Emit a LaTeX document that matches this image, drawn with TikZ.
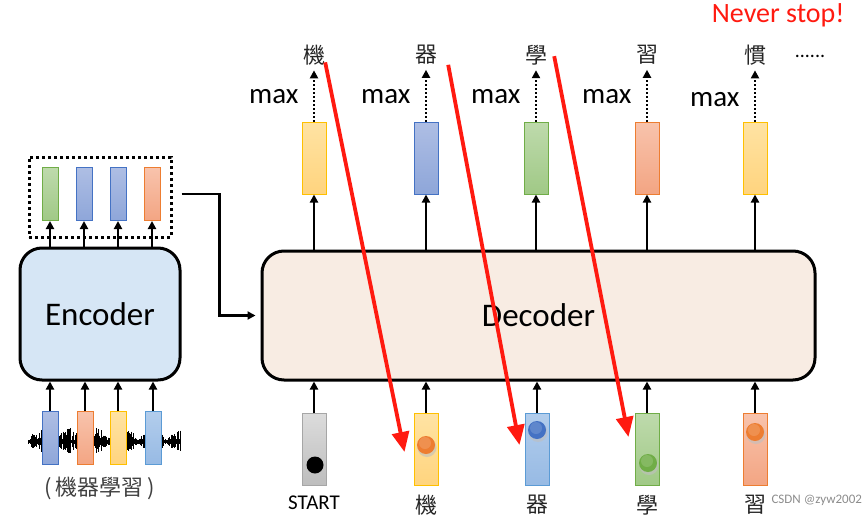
\documentclass[tikz,border=0pt]{standalone}
\usepackage{fontspec}
\setmainfont{Carlito}
\newfontfamily\cjk{Noto Sans CJK TC}
\usetikzlibrary{arrows.meta}
\definecolor{encfill}{HTML}{D6E6F5}
\definecolor{decfill}{HTML}{F8ECE3}
\definecolor{ytop}{HTML}{FFE3A3}\definecolor{ybot}{HTML}{FFD47E}\definecolor{yline}{HTML}{FFC000}
\definecolor{btop}{HTML}{AEBEE4}\definecolor{bbot}{HTML}{8EA6D9}\definecolor{bline}{HTML}{4472C4}
\definecolor{ltop}{HTML}{B2CDEC}\definecolor{lbot}{HTML}{97BAE4}\definecolor{lline}{HTML}{5B9BD5}
\definecolor{gtop}{HTML}{BEDAAC}\definecolor{gbot}{HTML}{A0C986}\definecolor{gline}{HTML}{70AD47}
\definecolor{stop}{HTML}{F8C3AC}\definecolor{sbot}{HTML}{F3A583}\definecolor{sline}{HTML}{ED7D31}
\definecolor{ktop}{HTML}{DCDCDC}\definecolor{kbot}{HTML}{BDBDBD}\definecolor{kline}{HTML}{A6A6A6}
\definecolor{redarrow}{HTML}{FF1A10}
\begin{document}
\begin{tikzpicture}[x=1pt,y=-1pt,>={Triangle[length=8pt,width=8pt]}]
\tikzset{box/.style={draw,line width=3pt,rounded corners=22pt,font=\fontsize{33}{36}\selectfont},
vec/.style={draw,line width=1pt,minimum width=24pt,minimum height=72pt,inner sep=0pt},
svec/.style={vec,minimum width=16pt,minimum height=53pt},
yel/.style={top color=ytop,bottom color=ybot,draw=yline},
blu/.style={top color=btop,bottom color=bbot,draw=bline},
lbl/.style={top color=ltop,bottom color=lbot,draw=lline},
grn/.style={top color=gtop,bottom color=gbot,draw=gline},
sal/.style={top color=stop,bottom color=sbot,draw=sline},
gry/.style={top color=ktop,bottom color=kbot,draw=kline},
hanzi/.style={font=\cjk\fontsize{22}{24}\selectfont,text=black!85,inner sep=0pt},
conn/.style={line width=2.3pt,->},
redarr/.style={draw=redarrow,line width=3.8pt,-{Triangle[length=20pt,width=17pt]}}}
\useasboundingbox (0,0) rectangle (864,519);
% encoder side
\node[box,fill=encfill,minimum width=160pt,minimum height=132pt] (enc) at (100,314) {Encoder};
\node[minimum width=142pt,minimum height=80pt,draw,line width=3pt,dash pattern=on 3pt off 3pt] (encout) at (100,197) {};
\foreach \n/\x/\c in {1/50/grn,2/84/blu,3/118/blu,4/152/sal}{
  \node[svec,\c] (e\n) at (\x,194) {};
  \draw[conn] (e\n |- enc.north) -- (e\n);
}
\pgfmathsetseed{7}
\foreach \i in {28,28.6,...,180}{
  \pgfmathsetmacro\amp{1.5+13*rnd*abs(sin(\i*6.5))}
  \draw[line width=0.6pt] (\i,442-\amp) -- (\i,442+0.8*\amp);
}
\foreach \n/\x/\c in {1/50/blu,2/85/sal,3/118/yel,4/153/lbl}{
  \node[svec,\c] (a\n) at (\x,438) {};
  \draw[conn] (a\n) -- (a\n |- enc.south);
}
\node[font=\cjk\fontsize{22}{24}\selectfont,text=black!75] (speech) at (100,488) {(\,機器學習\,)};
% decoder side
\node[box,fill=decfill,minimum width=553pt,minimum height=129pt] (dec) at (538.5,315.5) {Decoder};
\draw[conn,shorten >=5pt] ([xshift=9pt,yshift=3pt]encout.east) -| ([xshift=-41pt]dec.west) -- (dec.west);
\foreach \n/\x/\c/\w/\m in {1/314/yel/機/97,2/426/blu/器/97,3/536/grn/學/97,4/647/sal/習/97,5/755/yel/慣/100}{
  \node[vec,\c] (o\n) at (\x,158) {};
  \draw[conn] (o\n |- dec.north) -- (o\n);
  \node[hanzi] (c\n) at (\x,55) {\w};
  \draw[line width=2.3pt,dash pattern=on 2pt off 2pt,->] (o\n) -- ([yshift=-5pt]c\n.south);
  \node[anchor=east,font=\fontsize{29}{30}\selectfont] (m\n) at (\x-12,\m) {max};
}
\node[font=\fontsize{20}{22}\selectfont] (dots) at (810,56) {......};
\node[anchor=east,text=redarrow,font=\fontsize{28}{30}\selectfont] (never) at (848,15) {Never stop!};
\node[anchor=west,text=black!45,font=\fontsize{13}{15}\selectfont] (mark) at (768,500) {CSDN @zyw2002};
\foreach \n/\x/\c/\w in {0/314/gry/START,1/426/yel/機,2/537/lbl/器,3/647/grn/學,4/755/sal/習}{
  \node[vec,\c] (in\n) at (\x,449.5) {};
  \draw[conn] (in\n) -- (in\n |- dec.south);
}
\node[font=\fontsize{21}{24}\selectfont] (l0) at (314,503) {START};
\foreach \n/\x/\w in {1/426/機,2/537/器,3/647/學,4/755/習}
  \node[hanzi] (l\n) at (\x,505) {\w};
\fill[black] (315,465) circle (8.5pt);
\foreach \x/\y/\c in {426/445/sline,537/430/bline,648/463/gline,755/432/sline}{
  \fill[black!25,opacity=0.6] (\x+1,\y+2.5) circle (9.5pt);
  \fill[\c] (\x,\y) circle (9pt);
  \fill[white,opacity=0.15] (\x-1,\y-2) circle (6pt);
}
% red arrows
\draw[redarr] ([yshift=3pt]c1.south east) -- ([xshift=-9pt,yshift=-2.5pt]in1.west);
\draw[redarr] ([xshift=11pt]c2.south east) -- ([xshift=-5pt,yshift=4.5pt]in2.west);
\draw[redarr] ([xshift=7pt,yshift=9pt]c3.south east) -- ([xshift=-6pt,yshift=12.5pt]in3.west);
\end{tikzpicture}
\end{document}
